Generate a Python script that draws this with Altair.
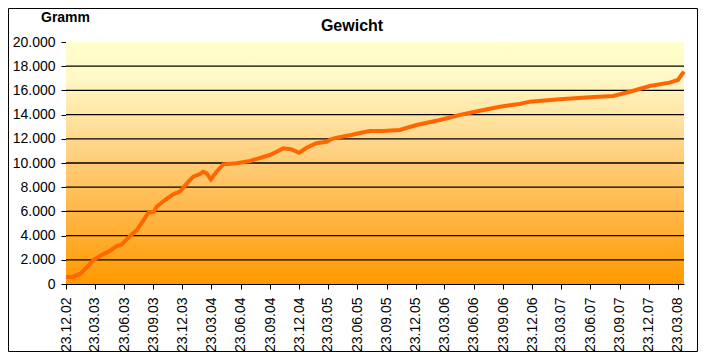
import altair as alt
import pandas as pd

# ---- data ----
dates = ["2002-12-23", "2003-01-10", "2003-02-05", "2003-02-26", "2003-03-19",
         "2003-04-08", "2003-05-10", "2003-05-31", "2003-06-16", "2003-07-12",
         "2003-08-02", "2003-08-22", "2003-09-07", "2003-09-25", "2003-10-03",
         "2003-10-29", "2003-11-24", "2003-12-15", "2003-12-27", "2004-01-10",
         "2004-01-26", "2004-02-16", "2004-02-26", "2004-03-08", "2004-03-21",
         "2004-04-08", "2004-04-24", "2004-04-29", "2004-06-10", "2004-07-22",
         "2004-09-22", "2004-10-13", "2004-11-03", "2004-11-29", "2004-12-23",
         "2005-01-15", "2005-02-15", "2005-03-19", "2005-04-03", "2005-04-24",
         "2005-05-31", "2005-06-21", "2005-08-01", "2005-09-12", "2005-11-03",
         "2005-12-26", "2006-03-09", "2006-05-10", "2006-07-12", "2006-09-13",
         "2006-11-14", "2006-12-16", "2007-03-20", "2007-06-22", "2007-09-03",
         "2007-10-25", "2007-12-27", "2008-02-27", "2008-03-24", "2008-04-04",
         "2008-04-12"]
weights = [600, 560, 830, 1380, 1980,
           2310, 2750, 3140, 3280, 3970,
           4460, 5230, 5890, 5980, 6390,
           6940, 7410, 7630, 7990, 8450,
           8870, 9090, 9280, 9150, 8650,
           9280, 9750, 9890, 9980, 10170,
           10660, 10930, 11210, 11130, 10850,
           11260, 11630, 11760, 11980, 12120,
           12300, 12420, 12640, 12650, 12730,
           13140, 13550, 13970, 14320, 14650,
           14880, 15070, 15260, 15430, 15540,
           15890, 16360, 16640, 16860, 17270,
           17550]

x_tick_labels = ["23.12.02", "23.03.03", "23.06.03", "23.09.03", "23.12.03",
                 "23.03.04", "23.06.04", "23.09.04", "23.12.04", "23.03.05",
                 "23.06.05", "23.09.05", "23.12.05", "23.03.06", "23.06.06",
                 "23.09.06", "23.12.06", "23.03.07", "23.06.07", "23.09.07",
                 "23.12.07", "23.03.08"]
y_ticks = [0, 2000, 4000, 6000, 8000, 10000, 12000, 14000, 16000, 18000, 20000]
grid_values = [2000, 4000, 6000, 8000, 10000, 12000, 14000, 16000, 18000]
x_domain = ["2002-12-23", "2008-04-12"]
y_domain = [0, 20000]

title_text = "Gewicht"
unit_text = "Gramm"


def ms(d):
    return int(pd.Timestamp(d).value // 10**6)


x_tick_ms = [ms(pd.to_datetime(t, format="%d.%m.%y")) for t in x_tick_labels]
x_domain_ms = [ms(d) for d in x_domain]

df = pd.DataFrame({"Datum": dates, "Gramm": weights})
bg = pd.DataFrame({"Datum": [x_domain[0]], "Datum2": [x_domain[1]],
                   "Gramm": [y_domain[0]], "Gramm2": [y_domain[1]]})
grid_df = pd.DataFrame({"Gramm": grid_values})
one = pd.DataFrame({"t": [title_text], "u": [unit_text]})

FONT = "Liberation Sans"

x_enc = alt.X(
    "Datum:T",
    scale=alt.Scale(type="utc", domain=x_domain_ms, nice=False),
    axis=alt.Axis(
        title=None, values=x_tick_ms,
        labelExpr="utcFormat(datum.value, '%d.%m.%y')",
        labelAngle=270, labelFont=FONT, labelFontSize=14, labelColor="#000000",
        labelPadding=8, tickSize=5, tickColor="#000000", domainColor="#000000",
        grid=False, labelOverlap=False, labelFlush=False,
    ),
)
y_enc = alt.Y(
    "Gramm:Q",
    scale=alt.Scale(domain=y_domain, nice=False),
    axis=alt.Axis(
        title=None, values=y_ticks,
        labelExpr="replace(format(datum.value, ','), ',', '.')",
        labelFont=FONT, labelFontSize=14, labelColor="#000000",
        labelPadding=6, tickSize=5, tickColor="#000000", domainColor="#000000",
        grid=False, labelOverlap=False, labelFlush=False,
    ),
)

gradient = alt.LinearGradient(
    gradient="linear",
    x1=0, x2=0, y1=1, y2=0,
    stops=[
        alt.GradientStop(offset=0, color="#FF9900"),
        alt.GradientStop(offset=0.5, color="#FFCC77"),
        alt.GradientStop(offset=0.85, color="#FFF8C6"),
        alt.GradientStop(offset=1, color="#FFFFCC"),
    ],
)

background = alt.Chart(bg).mark_rect(color=gradient).encode(
    x=x_enc, x2="Datum2:T", y=y_enc, y2="Gramm2:Q"
)

grid = alt.Chart(grid_df).mark_rule(color="#000000", strokeWidth=1.3).encode(
    y=y_enc
)

line = alt.Chart(df).mark_line(color="#FF6600", strokeWidth=4).encode(
    x=x_enc, y=y_enc
)

title = alt.Chart(one).mark_text(
    font=FONT, fontSize=16, fontWeight="bold", align="center",
    baseline="alphabetic", color="#000000"
).encode(text="t:N", x=alt.value(286), y=alt.value(-11))

unit = alt.Chart(one).mark_text(
    font=FONT, fontSize=14, fontWeight="bold", align="left",
    baseline="alphabetic", color="#000000"
).encode(text="u:N", x=alt.value(-25), y=alt.value(-20))

border = alt.Chart(one).mark_rect(
    fillOpacity=0, stroke="#000000", strokeWidth=1
).encode(
    x=alt.value(-57.5), x2=alt.value(631.5), y=alt.value(-33.5), y2=alt.value(309.5)
)

chart = alt.layer(background, grid, line, title, unit, border).properties(
    width=618, height=242,
    autosize=alt.AutoSizeParams(type="none"),
    padding={"left": 58, "top": 34, "right": 14, "bottom": 68},
    background="#FFFFFF",
).configure_view(stroke=None)

chart.save("out.html", embed_options={"renderer": "svg", "actions": False})
